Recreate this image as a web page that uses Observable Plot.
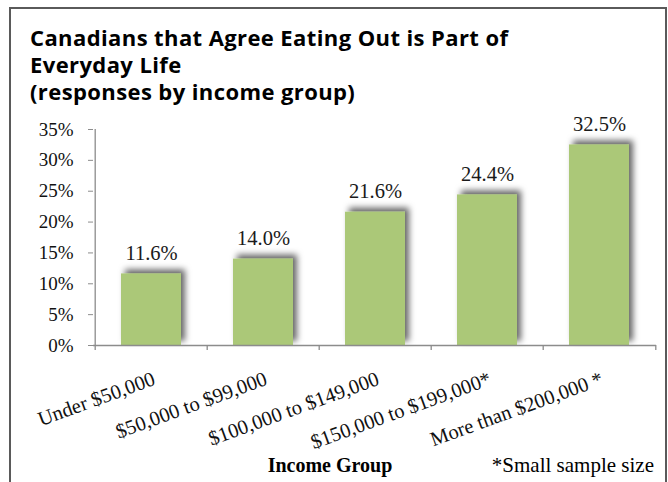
<!DOCTYPE html>
<html>
<head>
<meta charset="utf-8">
<script src="https://cdn.jsdelivr.net/npm/d3@7"></script>
<script src="https://cdn.jsdelivr.net/npm/@observablehq/plot@0.6"></script>
<style>
  html, body { margin: 0; padding: 0; background: #fff; }
  body { width: 668px; height: 482px; overflow: hidden; position: relative; }
  #frame { position: absolute; left: 9px; top: 7px; width: 658px; height: 520px; border: 2.5px solid #5a5a5a; border-bottom: none; box-sizing: border-box; }
  #title { position: absolute; left: 30px; top: 24px; font: bold 22px "Open Sans", "Liberation Sans", sans-serif; letter-spacing: 0.4px; line-height: 27px; color: #000; white-space: nowrap; }
  #chart { position: absolute; left: 0; top: 0; }
  #xtitle { position: absolute; left: 230px; width: 200px; text-align: center; top: 454px; font: bold 20px "Liberation Serif", serif; color: #000; }
  #note { position: absolute; right: 14px; top: 453px; font: 21px "Liberation Serif", serif; color: #000; }
</style>
</head>
<body>
<div id="frame"></div>
<div id="chart"></div>
<div id="title">Canadians that Agree Eating Out is Part of<br>Everyday Life<br>(responses by income group)</div>
<div id="xtitle">Income Group</div>
<div id="note">*Small sample size</div>
<script>
const categories = ["Under $50,000", "$50,000 to $99,000", "$100,000 to $149,000", "$150,000 to $199,000*", "More than $200,000 *"];
const values = [0.116, 0.140, 0.216, 0.244, 0.325];
const yTicks = [0, 0.05, 0.10, 0.15, 0.20, 0.25, 0.30, 0.35];

const data = categories.map((c, i) => ({cat: c, value: values[i]}));

const W = 668, H = 482, ML = 93, MR = 12, MT = 129, MB = 137;
const step = (W - ML - MR) / categories.length;
const serif = "'Liberation Serif', serif";
const axisGray = "#8c8c8c";

const chart = Plot.plot({
  width: W,
  height: H,
  marginLeft: ML,
  marginRight: MR,
  marginTop: MT,
  marginBottom: MB,
  style: {background: "transparent", color: "#111", fontFamily: serif, overflow: "visible"},
  x: {domain: categories, paddingInner: 0.467, paddingOuter: 0.233, label: null},
  y: {domain: [0, 0.35], label: null},
  marks: [
    Plot.barY(data, {x: "cat", y: "value", fill: "#abc878"}),
    Plot.ruleY([0], {stroke: axisGray, strokeWidth: 1.3}),
    Plot.ruleX([categories[0]], {x: d => d, y1: 0, y2: 0.35, dx: -step / 2, stroke: axisGray, strokeWidth: 1.3}),
    Plot.ruleX(categories, {x: d => d, y1: 0, y2: 0, insetBottom: -5, dx: -step / 2, stroke: axisGray, strokeWidth: 1.3}),
    Plot.ruleX([categories[categories.length - 1]], {x: d => d, y1: 0, y2: 0, insetBottom: -5, dx: step / 2, stroke: axisGray, strokeWidth: 1.3}),
    Plot.axisY({ticks: yTicks, tickFormat: d3.format(".0%"), tickSize: 5, tickPadding: 15, stroke: axisGray, fontSize: 19, fontFamily: serif, label: null}),
    Plot.axisX({tickSize: 0, tickRotate: -20, tickPadding: 25, textAnchor: "end", lineAnchor: "top", fontSize: 20.5, fontFamily: serif, label: null}),
    Plot.text(data, {x: "cat", y: "value", text: d => d3.format(".1%")(d.value), lineAnchor: "bottom", dy: -14, fontSize: 20.5, fontFamily: serif, fill: "#1a1a1a", letterSpacing: 0.5})
  ]
});

document.getElementById("chart").appendChild(chart);

// soft drop shadow on bars
const ns = "http://www.w3.org/2000/svg";
const defs = document.createElementNS(ns, "defs");
const filter = document.createElementNS(ns, "filter");
filter.setAttribute("id", "barshadow");
filter.setAttribute("x", "-30%"); filter.setAttribute("y", "-30%");
filter.setAttribute("width", "160%"); filter.setAttribute("height", "160%");
const ds = document.createElementNS(ns, "feDropShadow");
ds.setAttribute("dx", "4"); ds.setAttribute("dy", "-4");
ds.setAttribute("stdDeviation", "3");
ds.setAttribute("flood-color", "#000"); ds.setAttribute("flood-opacity", "0.6");
filter.appendChild(ds); defs.appendChild(filter);
chart.insertBefore(defs, chart.firstChild);
chart.querySelectorAll('g[aria-label="bar"] rect').forEach(r => r.setAttribute("filter", "url(#barshadow)"));
</script>
</body>
</html>
